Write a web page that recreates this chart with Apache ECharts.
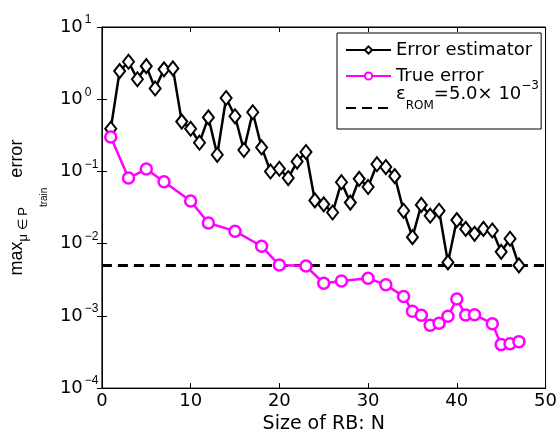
<!DOCTYPE html>
<html>
<head>
<meta charset="utf-8">
<script src="https://cdn.jsdelivr.net/npm/echarts@6/dist/echarts.min.js"></script>
<style>
  html, body { margin: 0; padding: 0; background: #fff; }
  #chart { width: 560px; height: 439px; }
</style>
</head>
<body>
<div id="chart"></div>
<script>
// Error estimator (black diamonds)
const estN = [1, 2, 3, 4, 5, 6, 7, 8, 9, 10, 11, 12, 13, 14, 15, 16, 17, 18, 19, 20,
  21, 22, 23, 24, 25, 26, 27, 28, 29, 30, 31, 32, 33, 34, 35, 36, 37, 38, 39, 40,
  41, 42, 43, 44, 45, 46, 47]
const estVal = [0.39, 2.45, 3.3, 1.89, 2.87, 1.41, 2.59, 2.67, 0.49, 0.39,
  0.25, 0.56, 0.17, 1.04, 0.58, 0.198, 0.66, 0.215, 0.100, 0.109,
  0.081, 0.137, 0.186, 0.0397, 0.035, 0.027, 0.071, 0.037, 0.079, 0.061,
  0.126, 0.115, 0.086, 0.0285, 0.0123, 0.0344, 0.0244, 0.0285, 0.0055, 0.0212,
  0.016, 0.0137, 0.016, 0.0152, 0.0077, 0.0117, 0.005]

// True error (magenta circles)
const trueN = [1, 3, 5, 7, 10, 12, 15, 18, 20, 23, 25, 27, 30, 32, 34, 35, 36, 37, 38, 39,
  40, 41, 42, 44, 45, 46, 47]
const trueVal = [0.30, 0.081, 0.108, 0.072, 0.039, 0.0193, 0.0149, 0.0092, 0.00505, 0.0049,
  0.00283, 0.00305, 0.00332, 0.00269, 0.00186, 0.00116, 0.00102, 0.00074, 0.00079, 0.00099,
  0.00171, 0.00103, 0.00104, 0.00078, 0.0004, 0.00041, 0.00044]

// tolerance line
const epsRom = 5.0e-3

const xTicks = [0, 10, 20, 30, 40, 50]
const xMin = 0, xMax = 50
const yMin = 1e-4, yMax = 10

const FONT = '"DejaVu Sans", Verdana, sans-serif'
const FONT_Y = '"Liberation Sans", Arial, Helvetica, sans-serif'

function expLabel(v) {
  const e = Math.round(Math.log10(v))
  return '{b|10}{sup|' + String(e).replace('-', '\u2212') + '}'
}

const zip = (xs, ys) => xs.map((x, i) => [x, ys[i]])

const chart = echarts.init(document.getElementById('chart'))

chart.setOption({
  animation: false,
  textStyle: { fontFamily: FONT, color: '#000' },
  grid: {
    left: 100, right: 12, top: 27, bottom: 46,
    show: true, borderColor: '#000', borderWidth: 1
  },
  legend: [{
    // box + the two data series
    orient: 'vertical',
    left: 337, top: 33,
    padding: [7, 9, 43, 8],
    itemGap: 6,
    itemWidth: 45, itemHeight: 9,
    backgroundColor: '#fff',
    borderColor: '#000', borderWidth: 1,
    data: ['Error estimator', 'True error'],
    textStyle: { fontFamily: FONT, fontSize: 18, color: '#000', lineHeight: 20 },
    z: 4
  }, {
    // tolerance entry
    orient: 'vertical',
    left: 337, top: 80,
    padding: [0, 0, 0, 8],
    itemWidth: 45, itemHeight: 9,
    data: [{ name: 'eps', itemStyle: { opacity: 0 } }],
    formatter: () => '{e|\u03b5}{s|ROM}{e|=5.0\u00d7 10}{p|\u22123}',
    textStyle: {
      fontFamily: FONT, fontSize: 18, color: '#000',
      rich: {
        e: { fontFamily: FONT, fontSize: 18, color: '#000', lineHeight: 32, verticalAlign: 'top', padding: [-7, 0, 0, 0] },
        s: { fontFamily: FONT, fontSize: 12, color: '#000', lineHeight: 32, verticalAlign: 'top', padding: [8, 0, 0, 0] },
        p: { fontFamily: FONT, fontSize: 12, color: '#000', lineHeight: 32, verticalAlign: 'top', padding: [-12, 0, 0, 0] }
      }
    },
    z: 5
  }],
  xAxis: [{
    type: 'value', min: xMin, max: xMax, interval: 10,
    name: 'Size of RB: N', nameLocation: 'middle', nameGap: 25,
    nameTextStyle: { fontFamily: FONT, fontSize: 19, color: '#000' },
    axisLine: { show: true, lineStyle: { color: '#000', width: 1 } },
    axisTick: { show: true, inside: true, length: 5, lineStyle: { color: '#000' } },
    axisLabel: { fontFamily: FONT, fontSize: 18, color: '#000', margin: 4,
      formatter: v => xTicks.includes(v) ? String(v) : '' },
    splitLine: { show: false }
  }, {
    type: 'value', min: xMin, max: xMax, interval: 10, position: 'top',
    axisLine: { show: true, lineStyle: { color: '#000' } },
    axisTick: { show: true, inside: true, length: 5, lineStyle: { color: '#000' } },
    axisLabel: { show: false },
    splitLine: { show: false }
  }],
  yAxis: [{
    type: 'log', logBase: 10, min: yMin, max: yMax,
    name: '{m|max}{s|\u03bc \u2208 P}{ss|train}{m|  error}',
    nameLocation: 'middle', nameGap: 61, nameRotate: 90,
    nameTextStyle: {
      fontFamily: FONT_Y, color: '#000',
      rich: {
        m: { fontFamily: FONT_Y, fontSize: 18, color: '#000', lineHeight: 36, verticalAlign: 'middle' },
        s: { fontFamily: FONT_Y, fontSize: 13, color: '#000', lineHeight: 36, verticalAlign: 'bottom', padding: [0, 0, 5, 0] },
        ss: { fontFamily: FONT_Y, fontSize: 10, color: '#000', lineHeight: 36, verticalAlign: 'bottom', padding: [0, 0, -14, 0] }
      }
    },
    axisLine: { show: true, lineStyle: { color: '#000', width: 1 } },
    axisTick: { show: true, inside: true, length: 5, lineStyle: { color: '#000' } },
    axisLabel: {
      margin: 42, align: 'left', formatter: expLabel,
      rich: {
        b: { fontFamily: FONT, fontSize: 18, color: '#000', lineHeight: 26, verticalAlign: 'middle' },
        sup: { fontFamily: FONT_Y, fontSize: 12, color: '#000', lineHeight: 26, verticalAlign: 'top', padding: [0, 0, 0, 2] }
      }
    },
    splitLine: { show: false }
  }, {
    type: 'log', logBase: 10, min: yMin, max: yMax, position: 'right',
    axisLine: { show: true, lineStyle: { color: '#000' } },
    axisTick: { show: true, inside: true, length: 5, lineStyle: { color: '#000' } },
    axisLabel: { show: false },
    splitLine: { show: false }
  }],
  series: [{
    name: 'Error estimator',
    type: 'line',
    data: zip(estN, estVal),
    symbol: 'diamond', symbolSize: [11, 14],
    showAllSymbol: true,
    lineStyle: { color: '#000', width: 2.5 },
    itemStyle: { color: '#fff', borderColor: '#000', borderWidth: 2 },
    z: 3
  }, {
    name: 'True error',
    type: 'line',
    data: zip(trueN, trueVal),
    symbol: 'circle', symbolSize: 11,
    showAllSymbol: true,
    lineStyle: { color: '#ff00ff', width: 2.5 },
    itemStyle: { color: '#fff', borderColor: '#ff00ff', borderWidth: 2.5 },
    z: 3
  }, {
    name: 'eps',
    type: 'line',
    data: [[xMin, epsRom], [xMax, epsRom]],
    symbol: 'none',
    lineStyle: { color: '#000', width: 3, type: [10, 6] },
    itemStyle: { color: '#000' },
    z: 2
  }]
})
</script>
</body>
</html>
